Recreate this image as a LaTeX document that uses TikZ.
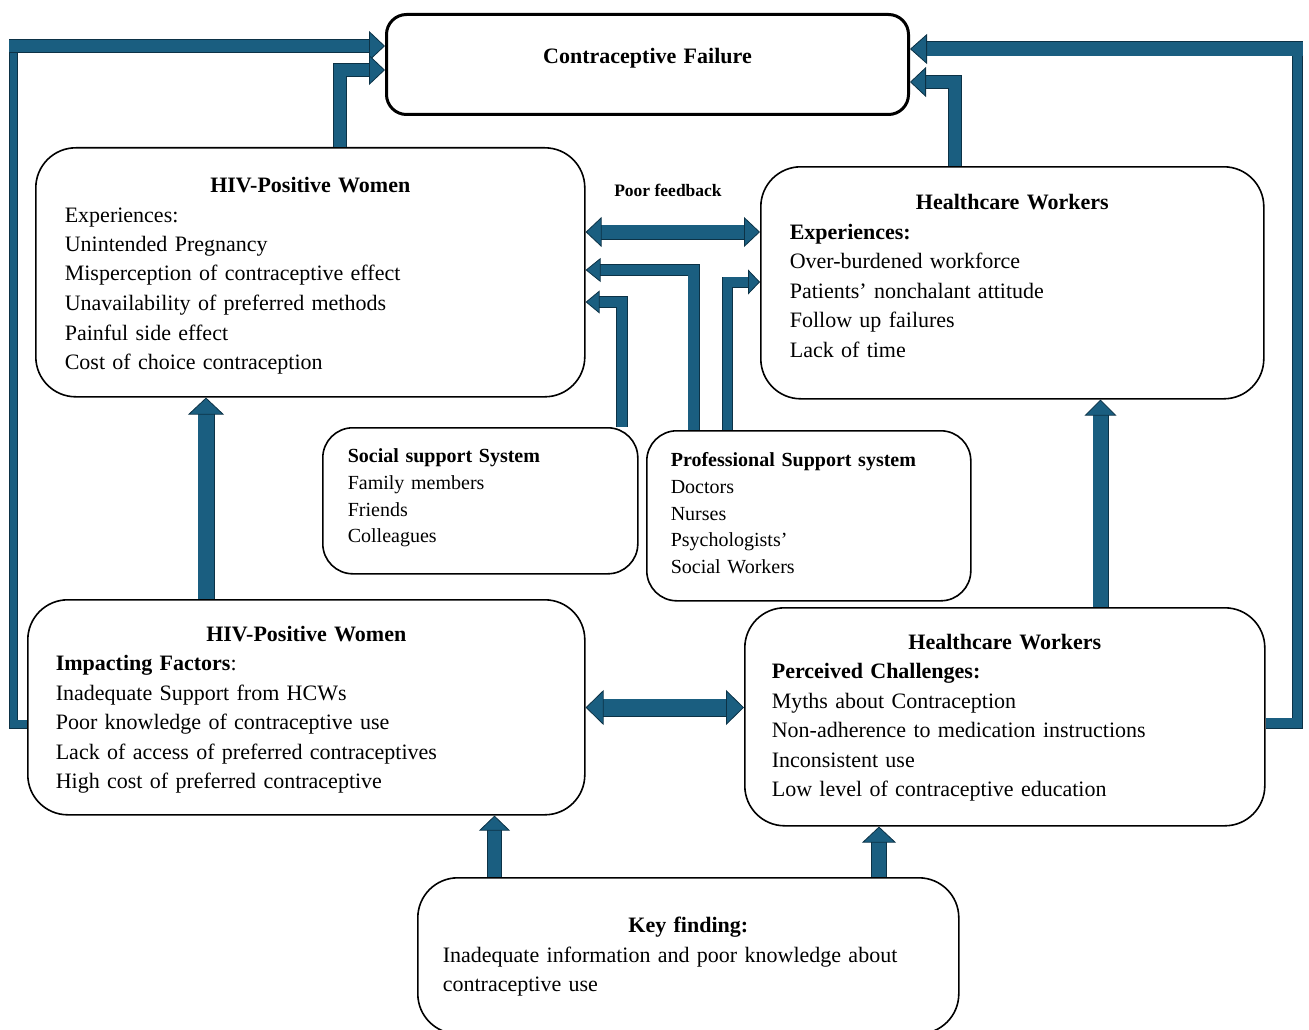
\documentclass[tikz,border=0pt]{standalone}
\usepackage{fontspec}
\setmainfont{Liberation Serif}
\usetikzlibrary{arrows.meta}
\definecolor{arrowfill}{RGB}{26,94,128}
\definecolor{arrowline}{RGB}{12,50,70}
\newcommand\bigtxt{\fontsize{22}{29.5}\selectfont}
\newcommand\smalltxt{\fontsize{20}{26.8}\selectfont}
\newcommand\boxtitle[1]{\makebox[\linewidth]{\bfseries #1}}
\tikzset{
  box/.style={draw=black, line width=1.6pt, rounded corners=#1, fill=white, inner ysep=0pt, align=left, anchor=north west},
  box/.default=40pt,
  flow/.style n args={3}{draw=arrowline, line width=0.8pt, double=arrowfill, double distance=#1, line join=miter,
    -{Triangle[length=#3, width=#2, line width=0.8pt, color=arrowline, fill=arrowfill]}},
  flowtwo/.style n args={3}{draw=arrowline, line width=0.8pt, double=arrowfill, double distance=#1, line join=miter,
    {Triangle[length=#3, width=#2, line width=0.8pt, color=arrowline, fill=arrowfill]}-{Triangle[length=#3, width=#2, line width=0.8pt, color=arrowline, fill=arrowfill]}},
  shaft/.style={draw=arrowline, line width=0.8pt, double=arrowfill, double distance=#1, line join=miter},
}
\begin{document}
\begin{tikzpicture}[x=1pt, y=-1pt]
\useasboundingbox (0,0) rectangle (1309,1030);

% boxes
\node[box, minimum width=522pt, minimum height=100pt, line width=3pt, rounded corners=20pt, text width=500pt, inner xsep=11pt, font=\bigtxt, text height=15pt, text depth=17pt] (fail) at (385,13) {\boxtitle{Contraceptive Failure}};

\node[box, minimum width=549pt, minimum height=249pt, text width=491pt, inner xsep=29pt, font=\bigtxt, text height=15pt, text depth=174.6pt] (hivT) at (35,147) {\boxtitle{HIV-Positive Women}\\
Experiences:\\ Unintended Pregnancy\\ Misperception of contraceptive effect\\ Unavailability of preferred methods\\ Painful side effect\\ Cost of choice contraception};

\node[box, minimum width=503pt, minimum height=232pt, text width=445pt, inner xsep=29pt, font=\bigtxt, text height=15pt, text depth=161pt] (hcwT) at (760,166) {\boxtitle{Healthcare Workers}\\ \textbf{Experiences:}\\ Over-burdened workforce\\ Patients’ nonchalant attitude\\ Follow up failures\\ Lack of time};

\node[box=30pt, minimum width=315pt, minimum height=146pt, text width=265pt, inner xsep=25pt, font=\smalltxt, text height=14pt, text depth=90.6pt] (soc) at (322,427) {\textbf{Social support System}\\ Family members\\ Friends\\ Colleagues};

\node[box=30pt, minimum width=324pt, minimum height=170pt, text width=276pt, inner xsep=24pt, font=\smalltxt, text height=14pt, text depth=112.6pt] (prof) at (646,430) {\textbf{Professional Support system}\\ Doctors\\ Nurses\\ Psychologists’\\ Social Workers};

\node[box, minimum width=557pt, minimum height=215pt, text width=501pt, inner xsep=28pt, font=\bigtxt, text height=15pt, text depth=147pt] (hivB) at (27,599) {\boxtitle{HIV-Positive Women}\\ \textbf{Impacting Factors}:\\ Inadequate Support from HCWs\\ Poor knowledge of contraceptive use\\ Lack of access of preferred contraceptives\\ High cost of preferred contraceptive};

\node[box, minimum width=520pt, minimum height=218pt, text width=466pt, inner xsep=27pt, font=\bigtxt, text height=15pt, text depth=150pt] (hcwB) at (744,607) {\boxtitle{Healthcare Workers}\\ \textbf{Perceived Challenges:}\\ Myths about Contraception\\ Non-adherence to medication instructions\\ Inconsistent use\\ Low level of contraceptive education};

\node[box, minimum width=541pt, minimum height=156pt, text width=491pt, inner xsep=25pt, font=\bigtxt, text height=15pt, text depth=61.6pt] (key) at (417,877) {\boxtitle{Key finding:}\\ Inadequate information and poor knowledge about\\ contraceptive use};

\node[font=\fontsize{17.5}{20}\selectfont\bfseries, anchor=base, inner sep=0pt] (fb) at (668,196) {Poor feedback};

% loop corners
\coordinate (lc) at (13.5,46);
\coordinate (rc) at (1297.5,49);

% outer loops
\draw[shaft=7.4pt] (hivB.west |- 0,724) -| (lc);
\draw[flow={12.4pt}{30pt}{16pt}] ([xshift=-4.5pt]lc) -- (fail.west |- lc);
\draw[shaft=9.4pt] (hcwB.east |- 0,723) -| (rc);
\draw[flow={13.4pt}{30pt}{17pt}] ([xshift=5.5pt]rc) -- (fail.east |- rc);

% into contraceptive failure
\draw[flow={12.4pt}{30pt}{16pt}] (340,0 |- hivT.north) |- (fail.west |- 0,70);
\draw[flow={12.4pt}{30pt}{16pt}] (955,0 |- hcwT.north) |- (fail.east |- 0,82);

% feedback and support arrows
\draw[flowtwo={13.4pt}{30pt}{16pt}] (hivT.east |- 0,232) -- (hcwT.west |- 0,232);
\draw[flow={10.4pt}{24pt}{15pt}] (693.5,0 |- prof.north) |- (hivT.east |- 0,270);
\draw[flow={10.4pt}{23pt}{14pt}] (622,0 |- soc.north) |- (hivT.east |- 0,302);
\draw[flow={9.4pt}{25pt}{12pt}] (727.5,0 |- prof.north) |- (hcwT.west |- 0,282);

% vertical arrows
\draw[flow={15.4pt}{36pt}{17pt}] (206,0 |- hivB.north) -- (206,0 |- hivT.south);
\draw[flow={14.4pt}{32pt}{16pt}] (1100.5,0 |- hcwB.north) -- (1100.5,0 |- hcwT.south);
\draw[flowtwo={16.4pt}{35pt}{18pt}] (hivB.east |- 0,707.5) -- (hcwB.west |- 0,707.5);
\draw[flow={13.4pt}{31pt}{15pt}] (494.5,0 |- key.north) -- (494.5,0 |- hivB.south);
\draw[flow={14.4pt}{34pt}{16pt}] (879,0 |- key.north) -- (879,0 |- hcwB.south);
\end{tikzpicture}
\end{document}
